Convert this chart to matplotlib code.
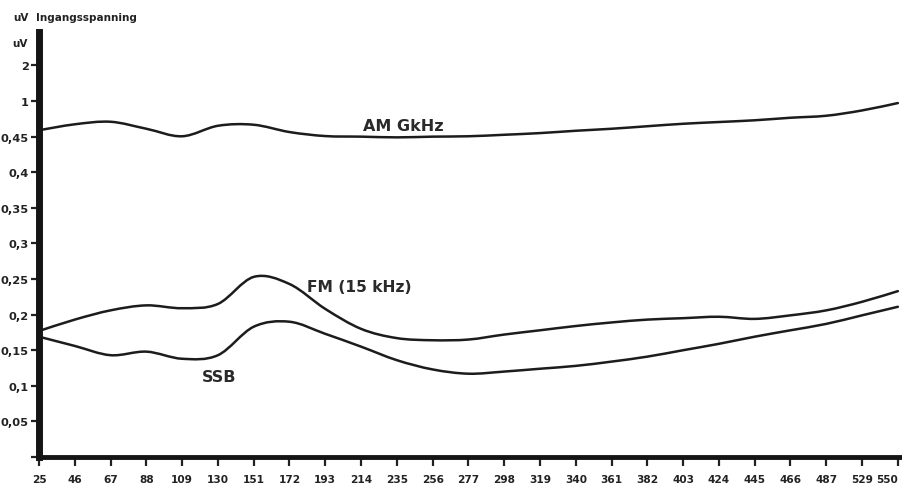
import numpy as np
import matplotlib.pyplot as plt
from matplotlib.path import Path
from matplotlib.patches import PathPatch

# x-as (kanaal / frequentie labels zoals op de grafiek)
freq = [25, 46, 67, 88, 109, 130, 151, 172, 193, 214, 235, 256, 277,
        298, 319, 340, 361, 382, 403, 424, 445, 466, 487, 529, 550]

# y-as: niet-lineaire schaal, elke tick even ver uit elkaar
y_ticks = [0, 0.05, 0.1, 0.15, 0.2, 0.25, 0.3, 0.35, 0.4, 0.45, 1, 2]
y_labels = ['', '0,05', '0,1', '0,15', '0,2', '0,25', '0,3', '0,35',
            '0,4', '0,45', '1', '2']

am = [0.549, 0.641, 0.680, 0.572, 0.456, 0.618, 0.634, 0.521, 0.459,
      0.450, 0.449, 0.450, 0.456, 0.479, 0.505, 0.541, 0.572, 0.611,
      0.649, 0.676, 0.703, 0.742, 0.773, 0.855, 0.969]
fm = [0.177, 0.193, 0.206, 0.213, 0.209, 0.215, 0.253, 0.243, 0.208,
      0.180, 0.167, 0.164, 0.165, 0.172, 0.178, 0.184, 0.189, 0.193,
      0.195, 0.197, 0.194, 0.199, 0.206, 0.218, 0.233]
ssb = [0.169, 0.156, 0.143, 0.148, 0.138, 0.143, 0.183, 0.190, 0.173,
       0.155, 0.136, 0.123, 0.117, 0.120, 0.124, 0.128, 0.134, 0.141,
       0.150, 0.159, 0.169, 0.178, 0.187, 0.199, 0.211]

xpos = np.arange(len(freq))
ypos_ticks = np.arange(len(y_ticks))


def to_pos(vals):
    return np.interp(vals, y_ticks, ypos_ticks)


def smooth_path(xs, ys):
    # catmull-rom -> bezier, zodat de lijn vloeiend loopt zoals de tekening
    pts = np.column_stack([xs, ys])
    n = len(pts)
    verts = [pts[0]]
    codes = [Path.MOVETO]
    for i in range(n - 1):
        p0 = pts[max(i - 1, 0)]
        p1 = pts[i]
        p2 = pts[i + 1]
        p3 = pts[min(i + 2, n - 1)]
        c1 = p1 + (p2 - p0) / 6.0
        c2 = p2 - (p3 - p1) / 6.0
        verts += [c1, c2, p2]
        codes += [Path.CURVE4] * 3
    return Path(verts, codes)


fig = plt.figure(figsize=(9.03, 4.89), dpi=100)
W, H = 903, 489
ax = fig.add_axes([39 / W, 1 - 458 / H, 861 / W, 425 / H])

for series in (am, fm, ssb):
    path = smooth_path(xpos, to_pos(series))
    ax.add_patch(PathPatch(path, fill=False, lw=1.8, color='#1c1c1c',
                           capstyle='round'))

ax.set_xlim(0, 24.06)
ax.set_ylim(0, 11.94)

ax.set_xticks(xpos)
ax.set_xticklabels([str(f) for f in freq])
ax.set_yticks(ypos_ticks)
ax.set_yticklabels(y_labels)

for s in ['top', 'right']:
    ax.spines[s].set_visible(False)
ax.spines['left'].set_linewidth(5)
ax.spines['bottom'].set_linewidth(3.5)
ax.spines['left'].set_color('#151515')
ax.spines['bottom'].set_color('#151515')

ax.tick_params(axis='y', length=6, width=1.6, pad=1.2, color='#222',
               labelsize=8.2, labelcolor='#222')
ax.tick_params(axis='x', length=6.5, width=1.6, pad=6, color='#222',
               labelsize=7.6, labelcolor='#222')
for lab in ax.get_xticklabels() + ax.get_yticklabels():
    lab.set_fontweight('bold')
# laatste label tegen de rand, net als op het origineel
ax.get_xticklabels()[-1].set_horizontalalignment('right')

# labels bij de curves
ax.text((363 - 39) / 35.79, to_pos(0.45) + 0.3, 'AM GkHz',
        fontsize=11.5, fontweight='bold', color='#2a2a2a', va='center')
ax.text((307 - 39) / 35.79, (458 - 287) / 35.6, 'FM (15 kHz)',
        fontsize=11.2, fontweight='bold', color='#2a2a2a', va='center')
ax.text((202 - 39) / 35.79, (458 - 377) / 35.6, 'SSB',
        fontsize=11.5, fontweight='bold', color='#2a2a2a', va='center')

# titel linksboven
fig.text(13 / W, 1 - 21 / H, 'uV', fontsize=7.5, fontweight='bold',
         color='#222', va='baseline')
fig.text(36 / W, 1 - 21 / H, 'Ingangsspanning', fontsize=7.5,
         fontweight='bold', color='#222', va='baseline')
fig.text(28 / W, 1 - 47 / H, 'uV', fontsize=7.5, fontweight='bold',
         color='#222', va='baseline', ha='right')

fig.savefig('out.png', dpi=100, facecolor='white')
